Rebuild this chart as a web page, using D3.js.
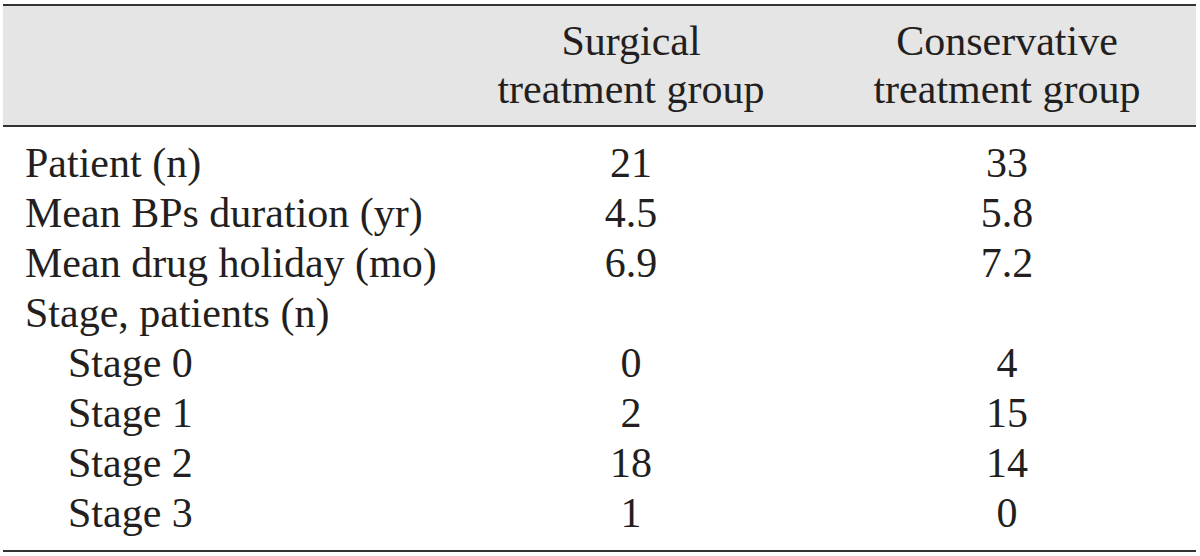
<!DOCTYPE html>
<html>
<head>
<meta charset="utf-8">
<script src="https://cdn.jsdelivr.net/npm/d3@7"></script>
<style>
  html, body { margin: 0; padding: 0; background: #fff; }
  svg { display: block; }
</style>
</head>
<body>
<svg id="chart" width="1200" height="556"></svg>
<script>
// ---- data ----
const columns = ["Surgical treatment group", "Conservative treatment group"];
const headerLines = [["Surgical", "treatment group"], ["Conservative", "treatment group"]];
const rowLabels = ["Patient (n)", "Mean BPs duration (yr)", "Mean drug holiday (mo)", "Stage, patients (n)", "Stage 0", "Stage 1", "Stage 2", "Stage 3"];
const rowIndent = [0, 0, 0, 0, 1, 1, 1, 1];
const surgicalValues = ["21", "4.5", "6.9", "", "0", "2", "18", "1"];
const conservativeValues = ["33", "5.8", "7.2", "", "4", "15", "14", "0"];

// ---- layout ----
const svg = d3.select("#chart");
const font = "'Liberation Serif', 'Times New Roman', serif";
const fs = 42;
const textColor = "#231f20";

const tableLeft = 3, tableRight = 1196;
const topLine = 5, headLine = 126, bottomLine = 551;

const xCol = d3.scalePoint().domain(columns).range([631, 1007]);
const yRow = d3.scaleLinear().domain([0, rowLabels.length - 1]).range([176.5, 526.5]);

// header background
svg.append("rect")
  .attr("x", tableLeft).attr("y", topLine)
  .attr("width", tableRight - tableLeft).attr("height", headLine - topLine)
  .attr("fill", "#e5e5e5");

// rules
[topLine, headLine, bottomLine].forEach(y => {
  svg.append("line")
    .attr("x1", tableLeft).attr("x2", tableRight)
    .attr("y1", y).attr("y2", y)
    .attr("stroke", "#333").attr("stroke-width", 2.2);
});

// header text
const hdr = svg.append("g");
columns.forEach((c, i) => {
  headerLines[i].forEach((line, j) => {
    hdr.append("text")
      .attr("x", xCol(c)).attr("y", j === 0 ? 55 : 103)
      .attr("text-anchor", "middle")
      .attr("font-family", font).attr("font-size", fs)
      .attr("fill", textColor)
      .text(line);
  });
});

// row labels
svg.append("g").selectAll("text").data(rowLabels).join("text")
  .attr("x", (d, i) => rowIndent[i] ? 68 : 25)
  .attr("y", (d, i) => yRow(i))
  .attr("font-family", font).attr("font-size", fs)
  .attr("fill", textColor)
  .text(d => d);

// values
[surgicalValues, conservativeValues].forEach((vals, ci) => {
  svg.append("g").selectAll("text").data(vals).join("text")
    .attr("x", xCol(columns[ci]))
    .attr("y", (d, i) => yRow(i))
    .attr("text-anchor", "middle")
    .attr("font-family", font).attr("font-size", fs)
    .attr("fill", textColor)
    .text(d => d);
});
</script>
</body>
</html>
